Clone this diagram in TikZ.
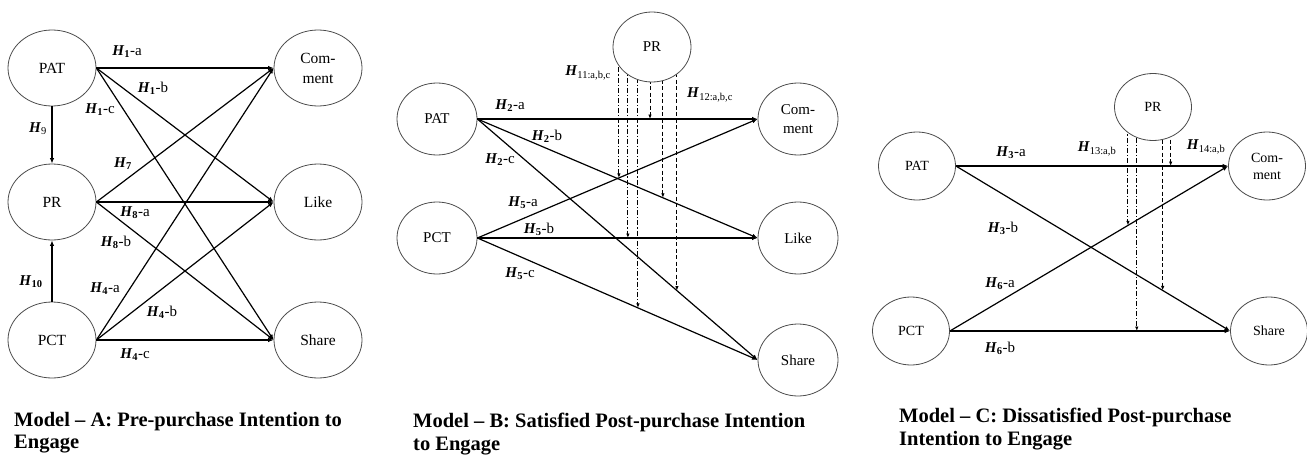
\documentclass[tikz,border=0pt]{standalone}
\usepackage{fontspec}
\setmainfont{Liberation Serif}
\usetikzlibrary{shapes.geometric,arrows.meta,calc}
\pgfdeclarelayer{background}
\pgfsetlayers{background,main}
\newcommand{\Hs}[2]{\textbf{\textit{H}}\textsubscript{#1}#2}
\begin{document}
\begin{tikzpicture}[x=1pt,y=-1pt,
  ell/.style={ellipse, draw=black!70, line width=0.8pt, fill=white, inner sep=0pt, align=center},
  ellA/.style={ell, minimum width=88pt, minimum height=76pt, font=\fontsize{15.5}{20}\selectfont},
  ellB/.style={ell, minimum width=80pt, minimum height=72pt, font=\fontsize{15}{19}\selectfont},
  ellBp/.style={ell, minimum width=78pt, minimum height=70pt, font=\fontsize{15}{19}\selectfont},
  ellC/.style={ell, minimum width=77pt, minimum height=68pt, font=\fontsize{14}{17}\selectfont},
  conn/.style={line width=1.2pt, -{Latex[length=5.5pt,width=4.5pt]}},
  mdot/.style={line width=1pt, dash pattern=on 5pt off 2pt on 1.2pt off 2pt, -{Latex[length=4.5pt,width=3.5pt]}},
  mdash/.style={line width=1pt, dash pattern=on 4pt off 2.5pt, -{Latex[length=4.5pt,width=3.5pt]}},
  hl/.style={font=\fontsize{15}{16}\selectfont, inner sep=0pt},
  captxt/.style={font=\fontsize{20.5}{22.5}\selectfont\bfseries, align=left, anchor=north west, inner sep=0pt}
]
\useasboundingbox (0,0) rectangle (1307,455);

% ---------------- Model A ----------------
\node[ellA] (A-PAT) at (52,68) {PAT};
\node[ellA] (A-Com) at (318,68) {Com-\\ment};
\node[ellA] (A-PR) at (52,202) {PR};
\node[ellA] (A-Like) at (318,202) {Like};
\node[ellA] (A-PCT) at (52,340) {PCT};
\node[ellA] (A-Share) at (318,340) {Share};

\foreach \s in {PAT,PR,PCT}{
  \foreach \t in {Com,Like,Share}{
    \draw[conn] (A-\s.east) -- (A-\t.west);
  }
}
\draw[conn] (A-PAT.south) -- (A-PR.north);
\draw[conn] (A-PCT.north) -- (A-PR.south);

\node[hl] (lA1a) at (127,52) {\Hs{\textbf{1}}{-a}};
\node[hl] (lA1b) at (153,88) {\Hs{\textbf{1}}{-b}};
\node[hl] (lA1c) at (100,110) {\Hs{\textbf{1}}{-c}};
\node[hl] (lA9) at (38,129) {\Hs{9}{}};
\node[hl] (lA7) at (123,164) {\Hs{\textbf{7}}{}};
\node[hl] (lA8a) at (135,213) {\Hs{\textbf{8}}{-a}};
\node[hl] (lA8b) at (116,242) {\Hs{\textbf{8}}{-b}};
\node[hl] (lA10) at (31,282) {\Hs{\textbf{10}}{}};
\node[hl] (lA4a) at (105,289) {\Hs{\textbf{4}}{-a}};
\node[hl] (lA4b) at (162,312) {\Hs{\textbf{4}}{-b}};
\node[hl] (lA4c) at (135,355) {\Hs{\textbf{4}}{-c}};

\node[captxt] (capA) at (14,412) {Model -- A: Pre-purchase Intention to\\Engage};

% ---------------- Model B ----------------
\node[ellB] (B-PAT) at (437,119) {PAT};
\node[ellB] (B-PCT) at (437,238) {PCT};
\node[ellBp] (B-PR) at (652,47) {PR};
\node[ellB] (B-Com) at (798,119) {Com-\\ment};
\node[ellB] (B-Like) at (798,238) {Like};
\node[ellB] (B-Share) at (798,360) {Share};

\foreach \s in {PAT,PCT}{
  \foreach \t in {Com,Like,Share}{
    \draw[conn] (B-\s.east) -- (B-\t.west);
  }
}
\coordinate (B-m1) at ($(B-PCT.east)!0.505!(B-Com.west)$);
\coordinate (B-m2) at ($(B-PCT.east)!0.537!(B-Like.west)$);
\coordinate (B-m3) at ($(B-PCT.east)!0.573!(B-Share.west)$);
\coordinate (B-m4) at ($(B-PAT.east)!0.616!(B-Com.west)$);
\coordinate (B-m5) at ($(B-PAT.east)!0.662!(B-Like.west)$);
\coordinate (B-m6) at ($(B-PAT.east)!0.712!(B-Share.west)$);
\begin{pgfonlayer}{background}
  \foreach \i in {1,2,3}{\draw[mdot] (B-m\i |- B-PR.center) -- (B-m\i);}
  \foreach \i in {4,5,6}{\draw[mdash] (B-m\i |- B-PR.center) -- (B-m\i);}
\end{pgfonlayer}

\node[hl, anchor=east] (lB11) at (611,73) {\Hs{11:a,b,c}{}};
\node[hl, anchor=west] (lB12) at (687,95) {\Hs{12:a,b,c}{}};
\node[hl] (lB2a) at (510,106) {\Hs{\textbf{2}}{-a}};
\node[hl] (lB2b) at (547,136) {\Hs{\textbf{2}}{-b}};
\node[hl] (lB2c) at (500,160) {\Hs{\textbf{2}}{-c}};
\node[hl] (lB5a) at (523,203) {\Hs{\textbf{5}}{-a}};
\node[hl] (lB5b) at (539,229) {\Hs{\textbf{5}}{-b}};
\node[hl] (lB5c) at (520,274) {\Hs{\textbf{5}}{-c}};

\node[captxt] (capB) at (413,413) {Model -- B: Satisfied Post-purchase Intention\\to Engage};

% ---------------- Model C ----------------
\node[ellC] (C-PAT) at (917,166) {PAT};
\node[ellC] (C-PCT) at (911,331) {PCT};
\node[ellC, minimum height=67pt] (C-PR) at (1153,107) {PR};
\node[ellC] (C-Com) at (1267,166) {Com-\\ment};
\node[ellC] (C-Share) at (1269,331) {Share};

\foreach \s in {PAT,PCT}{
  \foreach \t in {Com,Share}{
    \draw[conn] (C-\s.east) -- (C-\t.west);
  }
}
\coordinate (C-m1) at ($(C-PCT.east)!0.640!(C-Com.west)$);
\coordinate (C-m2) at ($(C-PCT.east)!0.667!(C-Share.west)$);
\coordinate (C-m3) at ($(C-PAT.east)!0.754!(C-Share.west)$);
\coordinate (C-m4) at ($(C-PAT.east)!0.789!(C-Com.west)$);
\begin{pgfonlayer}{background}
  \foreach \i in {1,2}{\draw[mdot] (C-m\i |- C-PR.center) -- (C-m\i);}
  \foreach \i in {3,4}{\draw[mdash] (C-m\i |- C-PR.center) -- (C-m\i);}
\end{pgfonlayer}

\node[hl] (lC3a) at (1011,153) {\Hs{\textbf{3}}{-a}};
\node[hl] (lC13) at (1097,149) {\Hs{13:a,b}{}};
\node[hl] (lC14) at (1206,147) {\Hs{14:a,b}{}};
\node[hl] (lC3b) at (1003,228) {\Hs{\textbf{3}}{-b}};
\node[hl] (lC6a) at (1000,284) {\Hs{\textbf{6}}{-a}};
\node[hl] (lC6b) at (1000,348) {\Hs{\textbf{6}}{-b}};

\node[captxt] (capC) at (899,408) {Model -- C: Dissatisfied Post-purchase\\Intention to Engage};
\end{tikzpicture}
\end{document}
